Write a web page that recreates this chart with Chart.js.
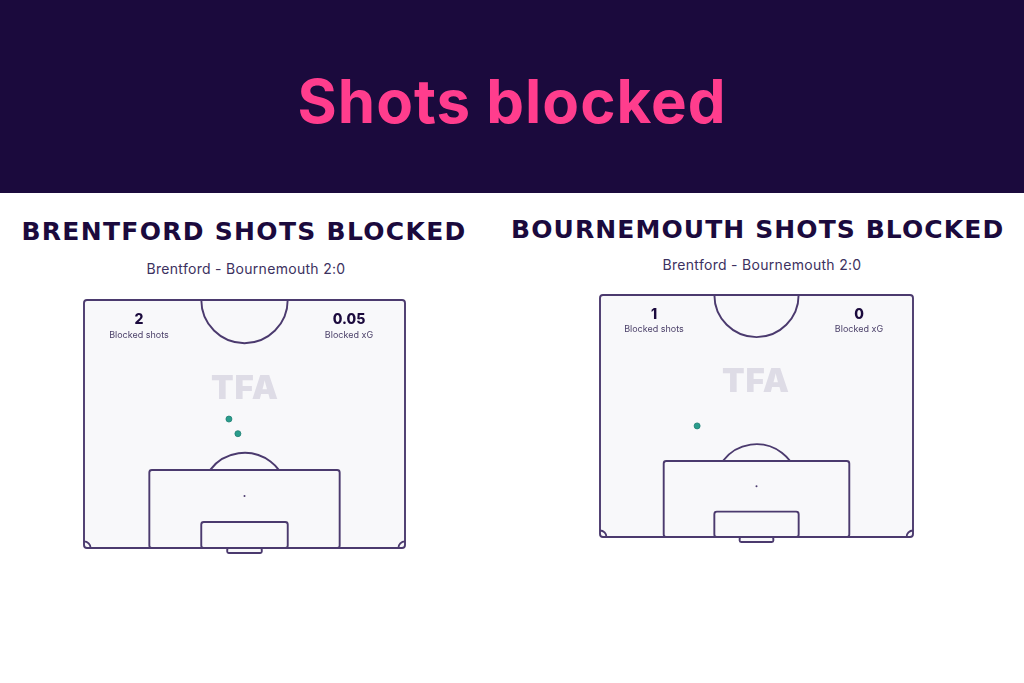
<!DOCTYPE html>
<html>
<head>
<meta charset="utf-8">
<script src="https://cdn.jsdelivr.net/npm/chart.js@4.4.1/dist/chart.umd.min.js"></script>
<style>
  html, body { margin: 0; padding: 0; background: #ffffff; }
  #page { position: relative; width: 1024px; height: 683px; overflow: hidden; font-family: "Inter", "Noto Sans", sans-serif; }
  #header { position: absolute; left: 0; top: 0; width: 1024px; height: 193px; background: #1b0a3d; }
  #header h1 { margin: 0; position: absolute; left: 0; width: 1024px; top: 66px; text-align: center;
               font-family: "Inter", sans-serif; font-weight: 700; font-size: 60px; line-height: 70px; color: #ff3d8d;
               letter-spacing: 1px; }
  .title { position: absolute; text-align: center; font-family: "DejaVu Sans", sans-serif; font-weight: 700;
           font-size: 25px; line-height: 30px; color: #1b0a3d; white-space: nowrap; letter-spacing: 1.3px; }
  .sub { position: absolute; text-align: center; font-family: "Inter", sans-serif; font-size: 14px; line-height: 16px;
         color: #3c3160; white-space: nowrap; letter-spacing: 0.3px; }
  .box { position: absolute; }
  .num { position: absolute; text-align: center; font-family: "Inter", sans-serif; font-weight: 800; font-size: 14px;
         line-height: 16px; color: #1b0a3d; width: 100px; }
  .lab { position: absolute; text-align: center; font-family: "Inter", sans-serif; font-size: 9px; line-height: 10px;
         color: #4a3f68; width: 100px; }
  .tfa { position: absolute; text-align: center; font-family: "Inter", sans-serif; font-weight: 900; font-size: 33px;
         line-height: 30px; color: #dedce6; width: 120px; letter-spacing: 1px; }
</style>
</head>
<body>
<div id="page">
  <div id="header"><h1>Shots blocked</h1></div>

  <div class="title" style="left:0; width:488px; top:217px;">BRENTFORD SHOTS BLOCKED</div>
  <div class="sub" style="left:1px; width:490px; top:261px;">Brentford - Bournemouth 2:0</div>

  <div class="title" style="left:511px; width:490px; top:215px; letter-spacing:1.1px;">BOURNEMOUTH SHOTS BLOCKED</div>
  <div class="sub" style="left:517px; width:490px; top:257px;">Brentford - Bournemouth 2:0</div>

  <div class="box" style="left:74px; top:290px; width:341px; height:268px;"><canvas id="pitchHome"></canvas></div>
  <div class="box" style="left:590px; top:285px; width:333px; height:262px;"><canvas id="pitchAway"></canvas></div>

  <div class="tfa" style="left:185px; top:372px;">TFA</div>
  <div class="tfa" style="left:696px; top:365px;">TFA</div>

  <div class="num" id="homeShots" style="left:89px; top:311px;"></div>
  <div class="lab" style="left:89px; top:330px;">Blocked shots</div>
  <div class="num" id="homeXG" style="left:299px; top:311px;"></div>
  <div class="lab" style="left:299px; top:330px;">Blocked xG</div>

  <div class="num" id="awayShots" style="left:604px; top:306px;"></div>
  <div class="lab" style="left:604px; top:324px;">Blocked shots</div>
  <div class="num" id="awayXG" style="left:809px; top:306px;"></div>
  <div class="lab" style="left:809px; top:324px;">Blocked xG</div>
</div>

<script>
/* ------------------------------------------------------------
   Дані: координати блокованих ударів (метри, від лінії воріт)
------------------------------------------------------------ */
const teams = ["Brentford", "Bournemouth"];
const blockedShots = [2, 1];
const blockedXG = ["0.05", "0"];

const brentfordShotsX = [30.7, 32.6];
const brentfordShotsY = [27.3, 24.2];

const bournemouthShotsX = [21.1];
const bournemouthShotsY = [24.1];

// розміри половини поля
const PITCH_W = 68;
const PITCH_H = 52.5;

document.getElementById("homeShots").textContent = blockedShots[0];
document.getElementById("homeXG").textContent = blockedXG[0];
document.getElementById("awayShots").textContent = blockedShots[1];
document.getElementById("awayXG").textContent = blockedXG[1];

/* ------------------------------------------------------------
   Плагін: малює розмітку поля через шкали графіка
------------------------------------------------------------ */
const LINE = "#4b3a6e";

function roundRect(ctx, x1, y1, x2, y2, r) {
    const x = Math.min(x1, x2), y = Math.min(y1, y2);
    const w = Math.abs(x2 - x1), h = Math.abs(y2 - y1);
    ctx.beginPath();
    ctx.moveTo(x + r, y);
    ctx.lineTo(x + w - r, y);
    ctx.quadraticCurveTo(x + w, y, x + w, y + r);
    ctx.lineTo(x + w, y + h - r);
    ctx.quadraticCurveTo(x + w, y + h, x + w - r, y + h);
    ctx.lineTo(x + r, y + h);
    ctx.quadraticCurveTo(x, y + h, x, y + h - r);
    ctx.lineTo(x, y + r);
    ctx.quadraticCurveTo(x, y, x + r, y);
    ctx.closePath();
}

const pitchPlugin = {
    id: "pitch",
    beforeDatasetsDraw(chart) {
        const ctx = chart.ctx;
        const sx = chart.scales.x, sy = chart.scales.y;
        const px = v => sx.getPixelForValue(v);
        const py = v => sy.getPixelForValue(v);
        const m = px(1) - px(0);   // пікселів на метр

        ctx.save();
        ctx.lineWidth = 1.9;
        ctx.strokeStyle = LINE;

        // ворота під лінією
        roundRect(ctx, px(34 - 3.66), py(0), px(34 + 3.66), py(0) + 5, 1.5);
        ctx.fillStyle = "#f8f8fa";
        ctx.fill();
        ctx.stroke();

        // поле
        roundRect(ctx, px(0), py(0), px(PITCH_W), py(PITCH_H), 3);
        ctx.fillStyle = "#f8f8fa";
        ctx.fill();

        // центральне коло (нижня половина)
        ctx.beginPath();
        ctx.arc(px(34), py(PITCH_H), 9.15 * m, 0, Math.PI, false);
        ctx.stroke();

        // дуга штрафного
        const dy = 16.5 - 11;
        const ang = Math.asin(dy / 9.15);
        ctx.beginPath();
        ctx.arc(px(34), py(11), 9.15 * m, Math.PI + ang, 2 * Math.PI - ang, false);
        ctx.stroke();

        // штрафний майданчик
        roundRect(ctx, px(34 - 20.16), py(0), px(34 + 20.16), py(16.5), 2.5);
        ctx.fillStyle = "#f8f8fa";
        ctx.fill();
        ctx.stroke();

        // воротарський майданчик
        roundRect(ctx, px(34 - 9.16), py(0), px(34 + 9.16), py(5.5), 2.5);
        ctx.stroke();

        // кутові дуги
        ctx.beginPath();
        ctx.arc(px(0), py(0), 1.4 * m, -Math.PI / 2, 0, false);
        ctx.stroke();
        ctx.beginPath();
        ctx.arc(px(PITCH_W), py(0), 1.4 * m, Math.PI, 1.5 * Math.PI, false);
        ctx.stroke();

        // зовнішня лінія
        roundRect(ctx, px(0), py(0), px(PITCH_W), py(PITCH_H), 3);
        ctx.stroke();

        // 11-метрова точка
        ctx.beginPath();
        ctx.arc(px(34), py(11), 1, 0, 2 * Math.PI);
        ctx.fillStyle = LINE;
        ctx.fill();

        ctx.restore();
    }
};

/* ------------------------------------------------------------
   Побудова графіка для однієї команди
------------------------------------------------------------ */
function renderPitch(canvasId, label, xs, ys) {
    const points = xs.map((x, i) => ({ x: x, y: ys[i] }));
    return new Chart(document.getElementById(canvasId), {
        type: "scatter",
        data: {
            datasets: [{
                label: label,
                data: points,
                pointRadius: 3,
                pointHoverRadius: 3,
                backgroundColor: "#2a9d8c",
                borderColor: "#1f7f73",
                borderWidth: 0.8
            }]
        },
        options: {
            responsive: true,
            maintainAspectRatio: false,
            animation: false,
            layout: { padding: 10 },
            plugins: { legend: { display: false }, tooltip: { enabled: false } },
            scales: {
                x: { type: "linear", min: 0, max: PITCH_W, display: false },
                y: { type: "linear", min: 0, max: PITCH_H, display: false }
            }
        },
        plugins: [pitchPlugin]
    });
}

renderPitch("pitchHome", teams[0], brentfordShotsX, brentfordShotsY);
renderPitch("pitchAway", teams[1], bournemouthShotsX, bournemouthShotsY);
</script>
</body>
</html>
